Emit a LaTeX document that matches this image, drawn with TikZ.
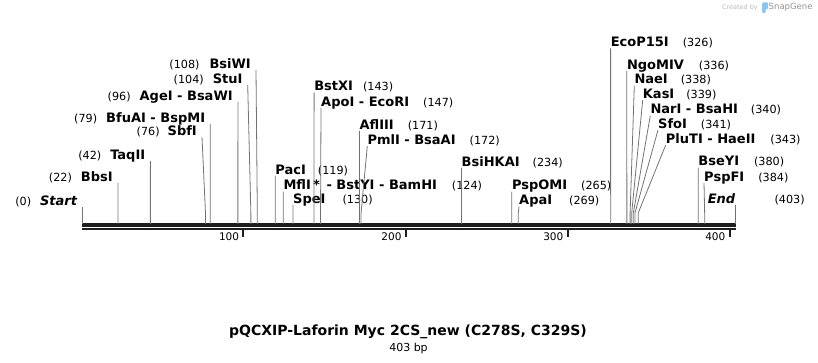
\documentclass[tikz,border=0pt]{standalone}
\usepackage{fontspec}
\setmainfont{DejaVu Sans}
\usetikzlibrary{positioning}
\definecolor{cutline}{RGB}{115,115,115}
\definecolor{seqline}{RGB}{30,30,30}
\definecolor{wmgrey}{RGB}{185,185,185}
\definecolor{wmblue}{RGB}{140,195,240}
\newcommand{\cutname}[1]{{\fontsize{13}{15}\selectfont\bfseries #1}}
\newcommand{\bp}[1]{82.3+1.6207*#1}

\begin{document}
\begin{tikzpicture}[x=1pt, y=-1pt,
  lab/.style={inner sep=0pt, text height=9pt, text depth=1.5pt, font=\fontsize{11.2}{13}\selectfont},
  rlab/.style={lab, anchor=south west},
  llab/.style={lab, inner xsep=5pt, anchor=south east},
  cut/.style={draw=cutline, line width=0.8pt},
  tick/.style={inner sep=0pt, anchor=east, font=\fontsize{10.5}{12}\selectfont},
]
  \useasboundingbox (0,0) rectangle (818,363);

  % sequence bar and scale
  \draw[seqline, line width=3pt] (82,225) -- (736,225);
  \draw[seqline, line width=2pt] (82,229) -- (736,229);
  \draw[seqline, line width=1.8pt] (243.3,230) -- (243.3,237);
  \draw[seqline, line width=1.8pt] (405.7,230) -- (405.7,237);
  \draw[seqline, line width=1.8pt] (567.7,230) -- (567.7,237);
  \draw[seqline, line width=1.8pt] (730,230) -- (730,237);
  \node[tick] (t100) at (239.3,237) {100};
  \node[tick] (t200) at (401.7,237) {200};
  \node[tick] (t300) at (563.5,237) {300};
  \node[tick] (t400) at (725.5,237) {400};

  % cut positions on the bar
  \coordinate (s0) at ({\bp{0}},224);   \coordinate (s22) at ({\bp{22}},224);
  \coordinate (s42) at ({\bp{42}},224); \coordinate (s76) at ({\bp{76}},224);
  \coordinate (s79) at ({\bp{79}},224); \coordinate (s96) at ({\bp{96}},224);
  \coordinate (s104) at ({\bp{104}},224); \coordinate (s108) at ({\bp{108}},224);
  \coordinate (s119) at ({\bp{119}},224); \coordinate (s124) at ({\bp{124}},224);
  \coordinate (s130) at ({\bp{130}},224); \coordinate (s143) at ({\bp{143}},224);
  \coordinate (s147) at ({\bp{147}},224); \coordinate (s171) at ({\bp{171}},224);
  \coordinate (s172) at ({\bp{172}},224); \coordinate (s234) at ({\bp{234}},224);
  \coordinate (s265) at ({\bp{265}},224); \coordinate (s269) at ({\bp{269}},224);
  \coordinate (s326) at ({\bp{326}},224); \coordinate (s336) at ({\bp{336}},224);
  \coordinate (s338) at ({\bp{338}},224); \coordinate (s339) at ({\bp{339}},224);
  \coordinate (s340) at ({\bp{340}},224); \coordinate (s341) at ({\bp{341}},224);
  \coordinate (s343) at ({\bp{343}},224); \coordinate (s380) at ({\bp{380}},224);
  \coordinate (s384) at ({\bp{384}},224); \coordinate (s403) at ({\bp{403}},224);

  % labels left of their line
  \node[llab] (Start) at (82.3,207) {(0)\hspace{9pt}\cutname{\itshape Start}};
  \node[llab] (BbsI) at (117.9,183) {(22)\hspace{9pt}\cutname{BbsI}};
  \node[llab] (TaqII) at (150.4,161) {(42)\hspace{9pt}\cutname{TaqII}};
  \node[llab] (SbfI) at (202,137) {(76)\hspace{8pt}\cutname{SbfI}};
  \node[llab] (BfuAI) at (210.3,124) {(79)\hspace{9pt}\cutname{BfuAI - BspMI}};
  \node[llab] (AgeI) at (237.9,102) {(96)\hspace{9pt}\cutname{AgeI - BsaWI}};
  \node[llab] (StuI) at (247.7,85) {(104)\hspace{9pt}\cutname{StuI}};
  \node[llab] (BsiWI) at (256,70) {(108)\hspace{10pt}\cutname{BsiWI}};

  % labels right of their line
  \node[rlab] (PacI) at (275.2,176) {\cutname{PacI}\hspace{12pt}(119)};
  \node[rlab] (MflI) at (283.3,191.7) {\cutname{MflI\,*\, - BstYI - BamHI}\hspace{15pt}(124)};
  \node[rlab] (SpeI) at (293,205) {\cutname{SpeI}\hspace{17pt}(130)};
  \node[rlab] (BstXI) at (314.1,92.7) {\cutname{BstXI}\hspace{10pt}(143)};
  \node[rlab] (ApoI) at (321,108) {\cutname{ApoI - EcoRI}\hspace{14pt}(147)};
  \node[rlab] (AflIII) at (359.4,131) {\cutname{AflIII}\hspace{14pt}(171)};
  \node[rlab] (PmlI) at (367.3,146) {\cutname{PmlI - BsaAI}\hspace{14pt}(172)};
  \node[rlab] (BsiHKAI) at (461.5,168) {\cutname{BsiHKAI}\hspace{13pt}(234)};
  \node[rlab] (PspOMI) at (511.8,191.7) {\cutname{PspOMI}\hspace{14pt}(265)};
  \node[rlab] (ApaI) at (519,206.7) {\cutname{ApaI}\hspace{17pt}(269)};
  \node[rlab] (EcoP15I) at (610.6,48.3) {\cutname{EcoP15I}\hspace{14pt}(326)};
  \node[rlab] (NgoMIV) at (626.8,71) {\cutname{NgoMIV}\hspace{15pt}(336)};
  \node[rlab] (NaeI) at (634.3,85.7) {\cutname{NaeI}\hspace{13pt}(338)};
  \node[rlab] (KasI) at (642.7,100) {\cutname{KasI}\hspace{12pt}(339)};
  \node[rlab] (NarI) at (650.3,115.7) {\cutname{NarI - BsaHI}\hspace{13pt}(340)};
  \node[rlab] (SfoI) at (658,130) {\cutname{SfoI}\hspace{14pt}(341)};
  \node[rlab] (PluTI) at (665.7,145) {\cutname{PluTI - HaeII}\hspace{15pt}(343)};
  \node[rlab] (BseYI) at (698.2,167.7) {\cutname{BseYI}\hspace{15pt}(380)};
  \node[rlab] (PspFI) at (704,183) {\cutname{PspFI}\hspace{14pt}(384)};
  \node[lab, anchor=south east] (End) at (735.4,205) {\cutname{\itshape End}};
  \node[lab, right=39pt of End] (End403) {(403)};

  % lines from the bar to the labels
  \draw[cut] (s0) -- (Start.south east);
  \draw[cut] (s22) -- (BbsI.south east);
  \draw[cut] (s42) -- (TaqII.south east);
  \draw[cut] (s76) -- ++(0,-11) -- (SbfI.south east);
  \draw[cut] (s79) -- (BfuAI.south east);
  \draw[cut] (s96) -- (AgeI.south east);
  \draw[cut] (s104) -- ++(0,-11) -- (StuI.south east);
  \draw[cut] (s108) -- ++(0,-11) -- (BsiWI.south east);
  \draw[cut] (s119) -- (PacI.south west);
  \draw[cut] (s124) -- (MflI.south west);
  \draw[cut] (s130) -- (SpeI.south west);
  \draw[cut] (s143) -- (BstXI.south west);
  \draw[cut] (s147) -- ++(0,-11) -- (ApoI.south west);
  \draw[cut] (s171) -- (AflIII.south west);
  \draw[cut] (s172) -- ++(0,-11) -- (PmlI.south west);
  \draw[cut] (s234) -- (BsiHKAI.south west);
  \draw[cut] (s265) -- (PspOMI.south west);
  \draw[cut] (s269) -- ++(0,-11) -- (ApaI.south west);
  \draw[cut] (s326) -- (EcoP15I.south west);
  \draw[cut] (s336) -- ++(0,-11) -- (NgoMIV.south west);
  \draw[cut] (s338) -- ++(0,-11) -- (NaeI.south west);
  \draw[cut] (s339) -- ++(0,-11) -- (KasI.south west);
  \draw[cut] (s340) -- ++(0,-11) -- (NarI.south west);
  \draw[cut] (s341) -- ++(0,-11) -- (SfoI.south west);
  \draw[cut] (s343) -- ++(0,-11) -- (PluTI.south west);
  \draw[cut] (s380) -- (BseYI.south west);
  \draw[cut] (s384) -- ++(0,-11) -- (PspFI.south west);
  \draw[cut] (s403) -- (End.south east);

  % title
  \node[font=\fontsize{14}{16}\selectfont\bfseries] (title) at (408,332) {pQCXIP-Laforin Myc 2CS\_new (C278S, C329S)};
  \node[font=\fontsize{11}{13}\selectfont] (length) at (408.5,348) {403 bp};

  % watermark
  \node[anchor=east, inner sep=0pt, text=wmgrey, font=\fontsize{6.5}{8}\selectfont] (made) at (758,7.5) {Created by};
  \fill[wmblue, rounded corners=1pt] (762,2.5) -- (768,2.5) -- (768,9) -- (765.5,9) -- (765.5,13) -- (762,13) -- cycle;
  \node[anchor=west, inner sep=0pt, text=wmgrey!80!black, font=\fontsize{8.5}{10}\selectfont] (snapgene) at (768.5,7.5) {SnapGene};
\end{tikzpicture}
\end{document}
